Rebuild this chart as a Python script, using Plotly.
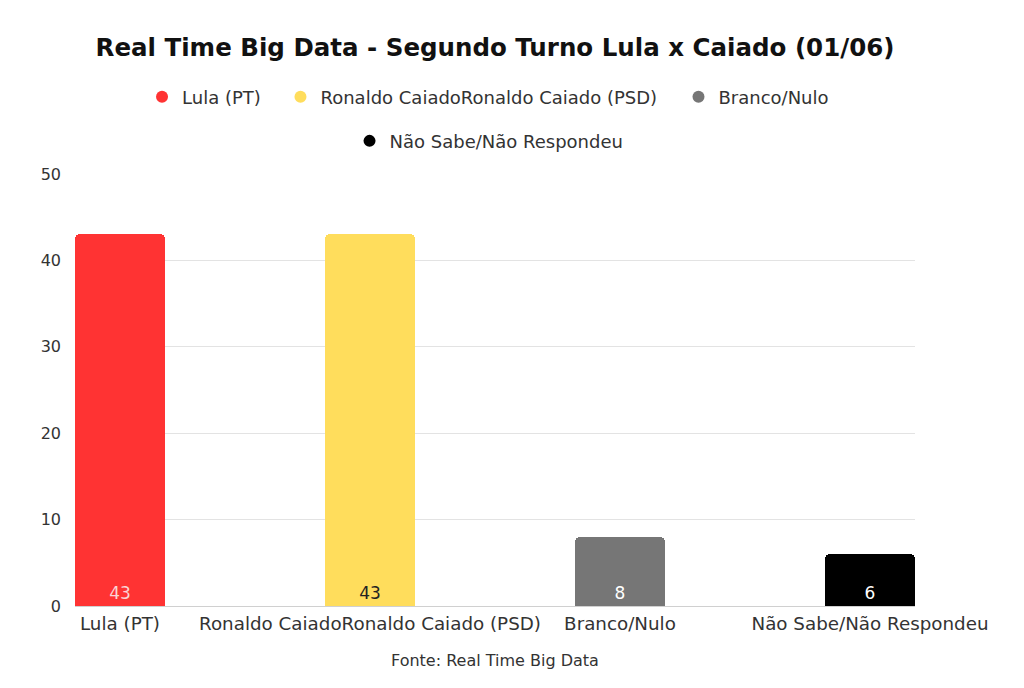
import plotly.graph_objects as go

categories = ["Lula (PT)", "Ronaldo CaiadoRonaldo Caiado (PSD)", "Branco/Nulo", "Não Sabe/Não Respondeu"]
values = [43, 43, 8, 6]
colors = ["#FF3333", "#FFDD5C", "#767676", "#000000"]
text_colors = ["#FAD4D4", "#222222", "#FFFFFF", "#FFFFFF"]
y_ticks = [0, 10, 20, 30, 40, 50]

FONT = "DejaVu Sans"
OFF = 8  # page body margin

# legend placement (paper coords) for each entry
legend_pos = [(0.1536, 1.178), (0.472, 1.178), (0.8113, 1.178), (0.4929, 1.076)]
legend_ids = ["legend", "legend2", "legend3", "legend4"]

fig = go.Figure()
fig.add_trace(go.Bar(
    x=categories, y=values,
    marker=dict(color=colors, cornerradius=5, line=dict(width=0)),
    width=0.36,
    text=[str(v) for v in values],
    textposition="inside", insidetextanchor="start",
    textfont=dict(family=FONT, size=17, color=text_colors),
    showlegend=False, hoverinfo="x+y",
))

for c, col, lid in zip(categories, colors, legend_ids):
    fig.add_trace(go.Scatter(
        x=[None], y=[None], mode="markers", name=c,
        marker=dict(symbol="circle", size=17, color=col),
        legend=lid,
    ))

legend_layout = {}
for lid, (lx, ly) in zip(legend_ids, legend_pos):
    legend_layout[lid] = dict(orientation="h", x=lx, xanchor="center", y=ly, yanchor="middle",
                              font=dict(family=FONT, size=18, color="#333333"),
                              itemsizing="constant", bgcolor="rgba(0,0,0,0)")

fig.update_layout(
    width=1024, height=688,
    margin=dict(l=75 - OFF, r=109 + OFF, t=174 - OFF, b=82 + OFF),
    paper_bgcolor="white", plot_bgcolor="white",
    font=dict(family=FONT, color="#333333", size=16),
    title=dict(text="<b>Real Time Big Data - Segundo Turno Lula x Caiado (01/06)</b>",
               x=0.5, xref="paper", xanchor="center", y=1 - (47 - OFF) / 688, yanchor="middle",
               font=dict(family=FONT, size=24.5, color="#111111")),
    bargap=0,
    **legend_layout,
)
fig.update_xaxes(range=[-0.18, 3.18], showgrid=False, showline=False, zeroline=False,
                 tickfont=dict(family=FONT, size=18.3, color="#333333"), ticks="",
                 ticklabelstandoff=5)
fig.update_yaxes(range=[0, 50], tickvals=y_ticks, showgrid=True, gridcolor="#E3E3E3",
                 zeroline=True, zerolinecolor="#D0D0D0", zerolinewidth=1,
                 tickfont=dict(family=FONT, size=16, color="#333333"), ticks="", ticklabelstandoff=13)

fig.add_annotation(text="Fonte: Real Time Big Data", x=0.5, xref="paper", xanchor="center",
                   y=(606 - 660) / 432, yref="paper", yanchor="middle", showarrow=False,
                   font=dict(family=FONT, size=16, color="#333333"))

fig.write_html("out.html")
